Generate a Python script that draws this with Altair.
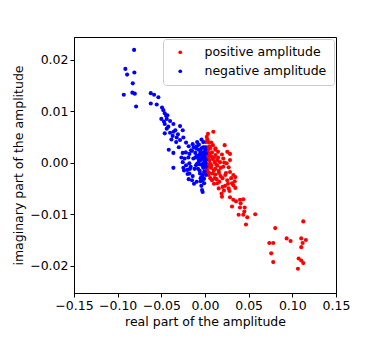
import altair as alt
import pandas as pd

# positive amplitude (red)
pos_x = [0.0034, 0.0095, 0.0027, 0.0050, 0.0072, 0.0118, 0.0149, 0.0225, 0.0255, 0.0194,
         0.0286, 0.0286, 0.0103, 0.0141, 0.0172, 0.0209, 0.0248, 0.0042, 0.0072, 0.0118,
         0.0157, 0.0209, 0.0271, 0.0286, 0.0324, 0.0347, 0.0340, 0.0309, 0.0179, 0.0133,
         0.0164, 0.0202, 0.0157, 0.0217, 0.0271, 0.0194, 0.0286, 0.0324, 0.0355, 0.0400,
         0.0438, 0.0408, 0.0454, 0.0400, 0.0309, 0.0385, 0.0438, 0.0484, 0.0575, 0.0027,
         0.0057, 0.0072, 0.0111, 0.0050, 0.0088, 0.0042, 0.0118, 0.0141, 0.0232, 0.0255,
         0.0263, 0.0324, 0.0347, 0.0080, 0.0103, 0.0450,
         0.0469, 0.0804, 0.1125, 0.0736, 0.0781, 0.0935, 0.0980, 0.1102, 0.1155, 0.1118,
         0.1102, 0.0758, 0.0781, 0.1072, 0.1102, 0.1125, 0.1064,
         0.001, 0.002, 0.003, 0.001, 0.002, 0.004, 0.001, 0.003, 0.002, 0.005,
         0.006, 0.001, 0.003, 0.004, 0.006, 0.008, 0.009, 0.007, 0.010, 0.012,
         0.013, 0.015, 0.016, 0.011, 0.006, 0.009, 0.002, 0.004, 0.018, 0.020,
         0.022, 0.024, 0.014, 0.019, 0.023, 0.028, 0.030, 0.012, 0.005, 0.002]
pos_y = [0.0056, 0.0060, 0.0045, 0.0032, 0.0039, 0.0025, 0.0021, 0.0034, 0.0021, 0.0016,
         0.0017, 0.0005, 0.0010, 0.0005, 0.0001, 0.0008, -0.0001, 0.0007, -0.0005, -0.0012,
         -0.0016, -0.0008, -0.0009, -0.0018, -0.0024, -0.0028, -0.0036, -0.0040, -0.0026, -0.0032,
         -0.0037, -0.0047, -0.0050, -0.0054, -0.0050, -0.0066, -0.0067, -0.0072, -0.0075, -0.0072,
         -0.0071, -0.0079, -0.0087, -0.0087, -0.0085, -0.0101, -0.0101, -0.0106, -0.0100, 0.0025,
         0.0018, 0.0012, 0.0001, -0.0008, -0.0021, -0.0024, -0.0023, -0.0006, -0.0024, -0.0034,
         -0.0041, -0.0044, -0.0049, -0.0034, -0.0041, -0.0095,
         -0.0120, -0.0127, -0.0114, -0.0156, -0.0156, -0.0147, -0.0152, -0.0147, -0.0150, -0.0156,
         -0.0164, -0.0176, -0.0193, -0.0186, -0.0190, -0.0195, -0.0206,
         0.0040, 0.0030, 0.0020, 0.0015, 0.0008, 0.0014, 0.0000, -0.0003, -0.0012, 0.0004,
         -0.0002, -0.0020, -0.0016, 0.0026, 0.0028, 0.0020, 0.0007, -0.0010, -0.0015, 0.0015,
         -0.0004, 0.0010, -0.0020, -0.0030, -0.0030, 0.0034, 0.0050, 0.0040, -0.0010, -0.0030,
         0.0000, -0.0020, -0.0040, -0.0060, -0.0045, -0.0055, -0.0030, 0.0028, -0.0020, 0.0022]

# negative amplitude (blue)
neg_x = [-0.0812, -0.0912, -0.0892, -0.0809, -0.0827, -0.0832, -0.0804, -0.0930, -0.0621, -0.0583,
         -0.0534, -0.0789, -0.0621, -0.0553, -0.0492, -0.0477, -0.0461, -0.0446, -0.0438, -0.0431,
         -0.0461, -0.0362, -0.0438, -0.0461, -0.0400, -0.0340, -0.0286, -0.0255, -0.0370, -0.0324,
         -0.0385, -0.0286, -0.0248, -0.0217, -0.0187, -0.0141, -0.0095, -0.0072, -0.0415, -0.0362,
         -0.0255, -0.0233, -0.0255, -0.0248, -0.0179, -0.0172, -0.0179, -0.0141, -0.0187, -0.0103,
         -0.0133, -0.0095, -0.0057, -0.0050, -0.0019, -0.0080, -0.0057, -0.0034, -0.0019, -0.0004,
         -0.0095, -0.0042, -0.0034, -0.0027, -0.0362, -0.0149, -0.0126, 0.0011, 0.0010, 0.0011,
         -0.0050, -0.0011, -0.0179, -0.0149, -0.0111, -0.0217, -0.0202, -0.0164, -0.0065, -0.0042,
         -0.0072, -0.0004, 0.0003, 0.0010, 0.0003, -0.0027,
         -0.002, -0.003, -0.001, -0.004, -0.002, -0.006, -0.001, -0.003, -0.005, -0.008,
         -0.002, -0.004, -0.007, -0.009, -0.001, 0.000, -0.006, -0.003, -0.011, -0.012,
         -0.001, -0.005, -0.010, -0.007, -0.013, -0.016, -0.019, -0.022, -0.020, -0.024,
         0.000, -0.002, -0.004, -0.009, -0.030, -0.027, -0.033, -0.036, -0.031, -0.042,
         -0.050, -0.047, -0.040]
neg_y = [0.0219, 0.0182, 0.0171, 0.0175, 0.0154, 0.0136, 0.0134, 0.0132, 0.0135, 0.0132,
         0.0127, 0.0109, 0.0115, 0.0113, 0.0107, 0.0102, 0.0096, 0.0091, 0.0085, 0.0092,
         0.0075, 0.0075, 0.0066, 0.0057, 0.0058, 0.0063, 0.0071, 0.0063, 0.0052, 0.0049,
         0.0045, 0.0044, 0.0049, 0.0039, 0.0032, 0.0036, 0.0032, 0.0025, 0.0025, 0.0019,
         0.0019, 0.0008, 0.0001, -0.0010, -0.0001, -0.0012, -0.0021, -0.0026, -0.0032, -0.0005,
         0.0008, 0.0013, 0.0017, 0.0005, -0.0001, -0.0012, -0.0021, -0.0028, -0.0008, -0.0017,
         -0.0037, -0.0045, -0.0053, -0.0057, -0.0010, -0.0034, -0.0041, 0.0018, 0.0005, -0.0024,
         -0.0036, -0.0031, 0.0017, 0.0023, 0.0019, -0.0005, -0.0014, -0.0008, -0.0003, 0.0009,
         0.0014, 0.0010, -0.0001, -0.0008, 0.0025, 0.0018,
         0.0020, 0.0012, 0.0005, -0.0004, -0.0010, 0.0006, -0.0018, -0.0024, 0.0021, 0.0009,
         0.0030, 0.0028, 0.0003, -0.0002, 0.0012, -0.0005, -0.0016, -0.0034, 0.0010, -0.0012,
         -0.0040, -0.0030, 0.0027, 0.0035, 0.0030, 0.0024, 0.0010, 0.0020, -0.0022, -0.0015,
         0.0030, 0.0040, 0.0045, 0.0040, 0.0030, 0.0010, 0.0040, 0.0060, 0.0055, 0.0070,
         0.0085, 0.0080, 0.0081]

series_names = ["positive amplitude", "negative amplitude"]
series_colors = ["#ff0000", "#0000ff"]
x_ticks = [-0.15, -0.10, -0.05, 0.0, 0.05, 0.10, 0.15]
y_ticks = [-0.02, -0.01, 0.0, 0.01, 0.02]

df = pd.concat([
    pd.DataFrame({"re": pos_x, "im": pos_y, "kind": series_names[0]}),
    pd.DataFrame({"re": neg_x, "im": neg_y, "kind": series_names[1]}),
], ignore_index=True)

font = "DejaVu Sans"
fs = 12.5

chart = alt.Chart(df).mark_circle(size=17, opacity=1).encode(
    x=alt.X("re:Q", scale=alt.Scale(domain=[-0.15, 0.15], nice=False, zero=False),
            axis=alt.Axis(values=x_ticks, format=".2f", labelOverlap=False, labelFlush=False,
                          title="real part of the amplitude")),
    y=alt.Y("im:Q", scale=alt.Scale(domain=[-0.0253, 0.0244], nice=False, zero=False),
            axis=alt.Axis(values=y_ticks, format=".2f", labelOverlap=False, labelFlush=False,
                          title="imaginary part of the amplitude")),
    color=alt.Color("kind:N", scale=alt.Scale(domain=series_names, range=series_colors),
                    legend=alt.Legend(title=None, orient="none", legendX=89, legendY=2,
                                      fillColor="white", strokeColor="#cccccc",
                                      cornerRadius=3, padding=7, symbolSize=14,
                                      symbolOffset=4, labelOffset=18, rowPadding=6,
                                      labelFontSize=fs, labelFont=font, labelColor="black",
                                      symbolType="circle")),
).properties(
    width=262, height=256, autosize="none",
    padding={"left": 66, "top": 29, "right": 30, "bottom": 43},
).configure_view(
    stroke="black", strokeWidth=1
).configure_axis(
    grid=False, domainColor="black", tickColor="black", tickSize=4,
    labelColor="black", labelFont=font, labelFontSize=fs, labelPadding=2,
    titleColor="black", titleFont=font, titleFontSize=fs, titleFontWeight="normal",
    titlePadding=4
)

chart.save("out.html", embed_options={"renderer": "svg", "actions": False})
